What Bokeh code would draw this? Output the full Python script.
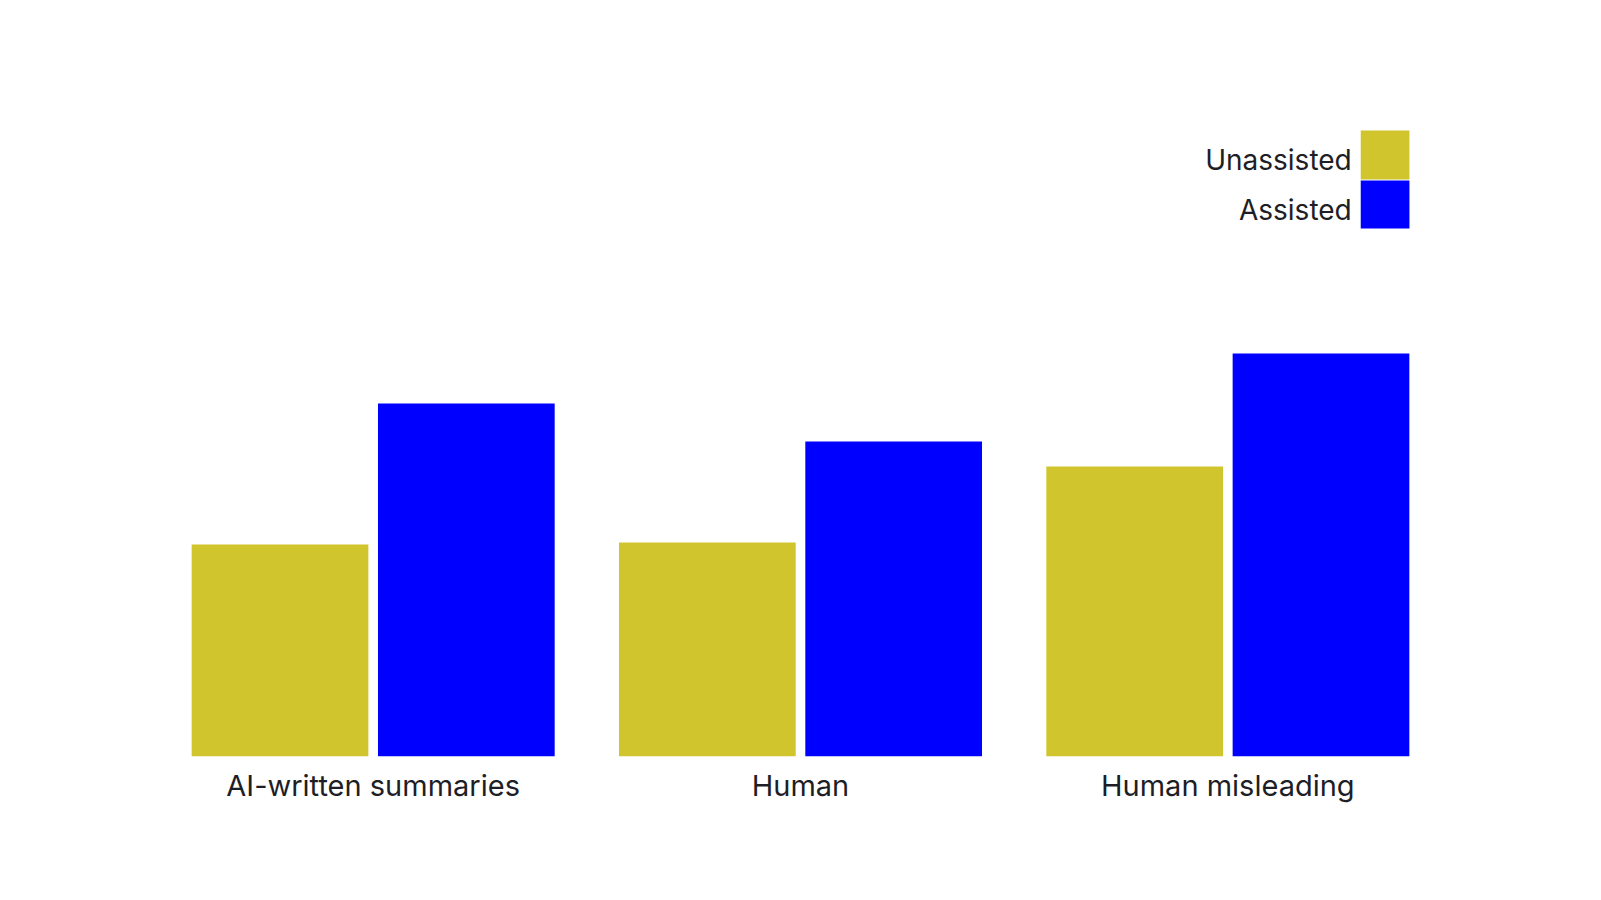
from bokeh.plotting import figure
from bokeh.models import ColumnDataSource, BoxAnnotation, Label, Range1d
from bokeh.transform import dodge
from bokeh.embed import file_html
from bokeh.resources import INLINE

categories = ["AI-written summaries", "Human", "Human misleading"]
unassisted = [0.212, 0.214, 0.290]
assisted = [0.353, 0.315, 0.403]
series_names = ["Unassisted", "Assisted"]
series_colors = ["#D1C52D", "#0000FF"]

FONT = "Inter"
TEXT_COLOR = "#1e1e26"

src = ColumnDataSource(dict(cat=categories, unassisted=unassisted, assisted=assisted))

p = figure(
    x_range=categories,
    y_range=Range1d(0, 0.7),
    width=1585, height=884,
    frame_width=1282, frame_height=700,
    min_border_left=159, min_border_right=144,
    min_border_top=56, min_border_bottom=128,
    output_backend="svg", toolbar_location=None,
    background_fill_color="white", border_fill_color="white",
)
p.outline_line_color = None
p.xgrid.visible = False
p.ygrid.visible = False
p.yaxis.visible = False
p.x_range.range_padding = 0

bar_w = 0.4135
off = 0.2180
p.vbar(x=dodge("cat", -off, range=p.x_range), top="unassisted", width=bar_w,
       source=src, fill_color=series_colors[0], line_color=None)
p.vbar(x=dodge("cat", off, range=p.x_range), top="assisted", width=bar_w,
       source=src, fill_color=series_colors[1], line_color=None)

ax = p.xaxis[0]
ax.axis_line_color = None
ax.major_tick_line_color = None
ax.minor_tick_line_color = None
ax.major_label_text_font = FONT
ax.major_label_text_font_size = "29px"
ax.major_label_text_color = TEXT_COLOR
ax.major_label_standoff = 5

# legend (label to the left of the swatch)
sw_left, sw_right = 2.811, 2.925
boxes = [(0.626, 0.577), (0.576, 0.528)]
baselines = [0.597, 0.547]
for name, col, (t, b), yb in zip(series_names, series_colors, boxes, baselines):
    p.add_layout(BoxAnnotation(left=sw_left, right=sw_right, top=t, bottom=b,
                               fill_color=col, fill_alpha=1.0, line_color=None))
    p.add_layout(Label(x=sw_left, y=yb, x_offset=-9, text=name,
                       text_align="right", text_baseline="alphabetic",
                       text_font=FONT, text_font_size="28px", text_color=TEXT_COLOR))

open("out.html", "w").write(file_html(p, INLINE))
